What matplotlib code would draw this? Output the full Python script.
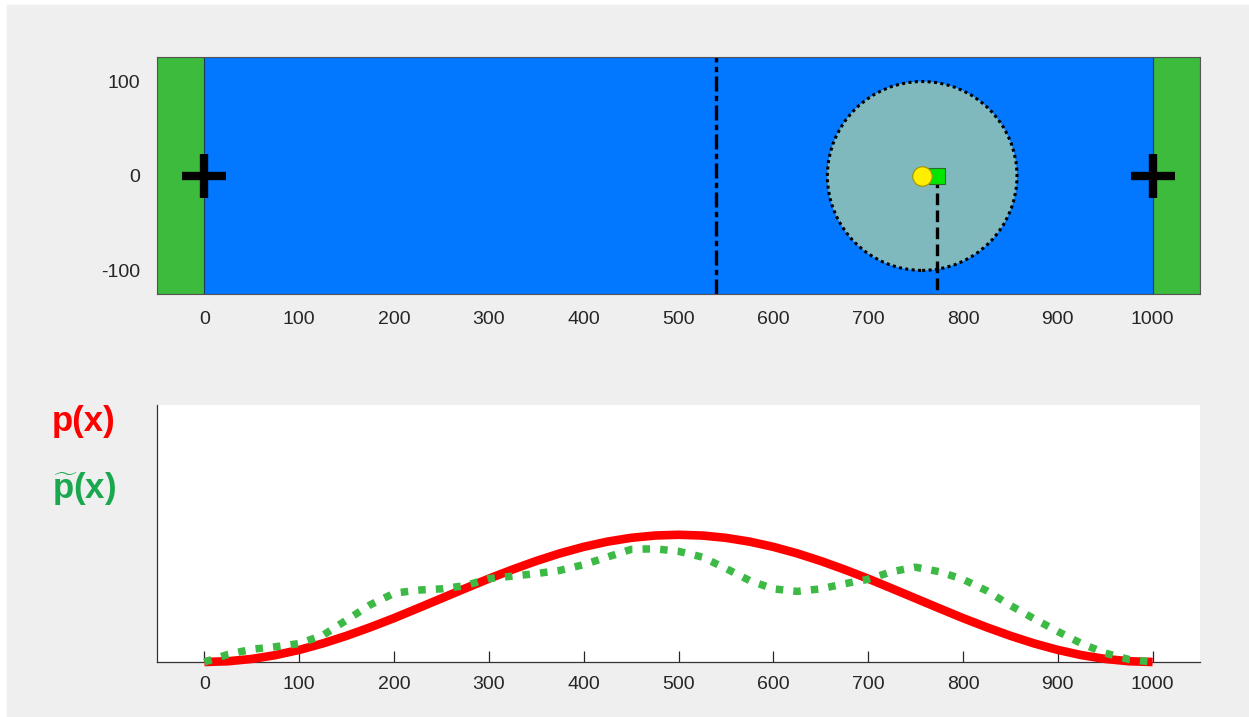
import matplotlib
matplotlib.use('Agg')
import matplotlib.pyplot as plt
from matplotlib.patches import Rectangle, Circle

plt.rcParams['font.family'] = ['Liberation Sans', 'DejaVu Sans']
plt.rcParams['axes.unicode_minus'] = False
plt.rcParams['mathtext.fontset'] = 'custom'
plt.rcParams['mathtext.rm'] = 'Liberation Sans'
plt.rcParams['mathtext.bf'] = 'Liberation Sans:bold'

# --- data ---
xticks = [0, 100, 200, 300, 400, 500, 600, 700, 800, 900, 1000]
yticks_top = [-100, 0, 100]
goals_x = [0, 1000]                    # black plus markers
green_zones = [(-50, 0), (1000, 1050)]  # end zones
field = (0, 1000)
midline_x = 540
disk_center = (757, 0)
disk_radius = 100
ball_x = 757
player_x = 773

x_curve = [0, 25, 50, 75, 100, 125, 150, 175, 200, 225, 250, 275, 300, 325, 350,
           375, 400, 425, 450, 475, 500, 525, 550, 575, 600, 625, 650, 675, 700,
           725, 750, 775, 800, 825, 850, 875, 900, 925, 950, 975, 1000]
p_true = [0.0, 0.006, 0.024, 0.054, 0.095, 0.146, 0.206, 0.273, 0.345, 0.422,
          0.5, 0.578, 0.655, 0.727, 0.794, 0.854, 0.905, 0.946, 0.976, 0.994,
          1.0, 0.994, 0.976, 0.946, 0.905, 0.854, 0.794, 0.727, 0.655, 0.578,
          0.5, 0.422, 0.345, 0.273, 0.206, 0.146, 0.095, 0.054, 0.024, 0.006, 0.0]
p_est = [0.0, 0.06, 0.10, 0.12, 0.145, 0.21, 0.33, 0.45, 0.54, 0.565, 0.575,
         0.60, 0.655, 0.675, 0.695, 0.72, 0.765, 0.825, 0.885, 0.89, 0.87,
         0.825, 0.735, 0.64, 0.575, 0.555, 0.575, 0.615, 0.65, 0.71, 0.745,
         0.71, 0.65, 0.56, 0.445, 0.34, 0.24, 0.145, 0.07, 0.02, 0.0]

W, H = 1249, 717
fig = plt.figure(figsize=(W / 100, H / 100), dpi=100)
fig.patch.set_facecolor('white')
fig.add_artist(Rectangle((7 / W, 0), 1 - 7 / W, (H - 5) / H,
                         transform=fig.transFigure, color='#efefef', zorder=-10))

def box(l, r, t, b):
    return [l / W, (H - b) / H, (r - l) / W, (b - t) / H]

# --- top: field ---
ax = fig.add_axes(box(157, 1200, 57, 294))
ax.set_xlim(-50, 1050)
ax.set_ylim(-125, 126)
for a, b in green_zones:
    ax.add_patch(Rectangle((a, -125), b - a, 251, facecolor='#3dbb3d',
                           edgecolor='#1f4f1f', lw=0.8))
ax.add_patch(Rectangle((field[0], -125), field[1] - field[0], 251,
                       facecolor='#0277ff', edgecolor='#1f3f5f', lw=0.8))
ax.axvline(midline_x, color='black', lw=2.4, ls=(0, (4.5, 1.3, 1.6, 1.3)))
ax.add_patch(Circle(disk_center, disk_radius, facecolor='#80b9bd',
                    edgecolor='black', lw=2.2, ls=(0, (1, 1.1))))
ax.plot([player_x, player_x], [0, -125], color='black', lw=2.4,
        ls=(0, (3.5, 1.6)))
ax.plot(player_x, 0, 's', ms=11, mfc='#00e600', mec='#2a6a2a', mew=0.8)
ax.plot(ball_x, 0, 'o', ms=14, mfc='#ffee00', mec='#a09000', mew=0.8)
ax.plot(goals_x, [0, 0], '+', color='black', ms=31, mew=6, ls='none')
ax.set_xticks(xticks)
ax.set_yticks(yticks_top)
ax.tick_params(length=0, labelsize=14, colors='#262626', pad=12)
for s in ax.spines.values():
    s.set_color('#555555')
    s.set_linewidth(0.8)

# --- bottom: p(x) ---
bx = fig.add_axes(box(157, 1200, 405, 662))
bx.set_facecolor('white')
bx.set_xlim(-50, 1050)
bx.set_ylim(0, 2.02)
bx.plot(x_curve, p_true, color='#ff0000', lw=6.2, solid_capstyle='butt',
        clip_on=False, zorder=3)
bx.plot(x_curve, p_est, color='#3cba45', lw=5.4, ls=(0, (1, 1.35)),
        dash_capstyle='butt', clip_on=False, zorder=4)
bx.set_xticks(xticks)
bx.set_yticks([])
bx.tick_params(axis='x', direction='in', length=8, width=0.9,
               labelsize=14, colors='#262626', pad=10)
bx.spines['top'].set_visible(False)
bx.spines['right'].set_visible(False)
for s in ('left', 'bottom'):
    bx.spines[s].set_color('#333333')
    bx.spines[s].set_linewidth(0.9)

fig.text(84 / W, (H - 421) / H, 'p(x)', color='#ff0000', fontsize=25,
         fontweight='bold', ha='center', va='center')
fig.text(84 / W, (H - 489) / H, r'$\mathbf{\widetilde{p}(x)}$', color='#1aa84f',
         fontsize=25, ha='center', va='center')

fig.savefig('out.png', dpi=100, facecolor=fig.get_facecolor())
